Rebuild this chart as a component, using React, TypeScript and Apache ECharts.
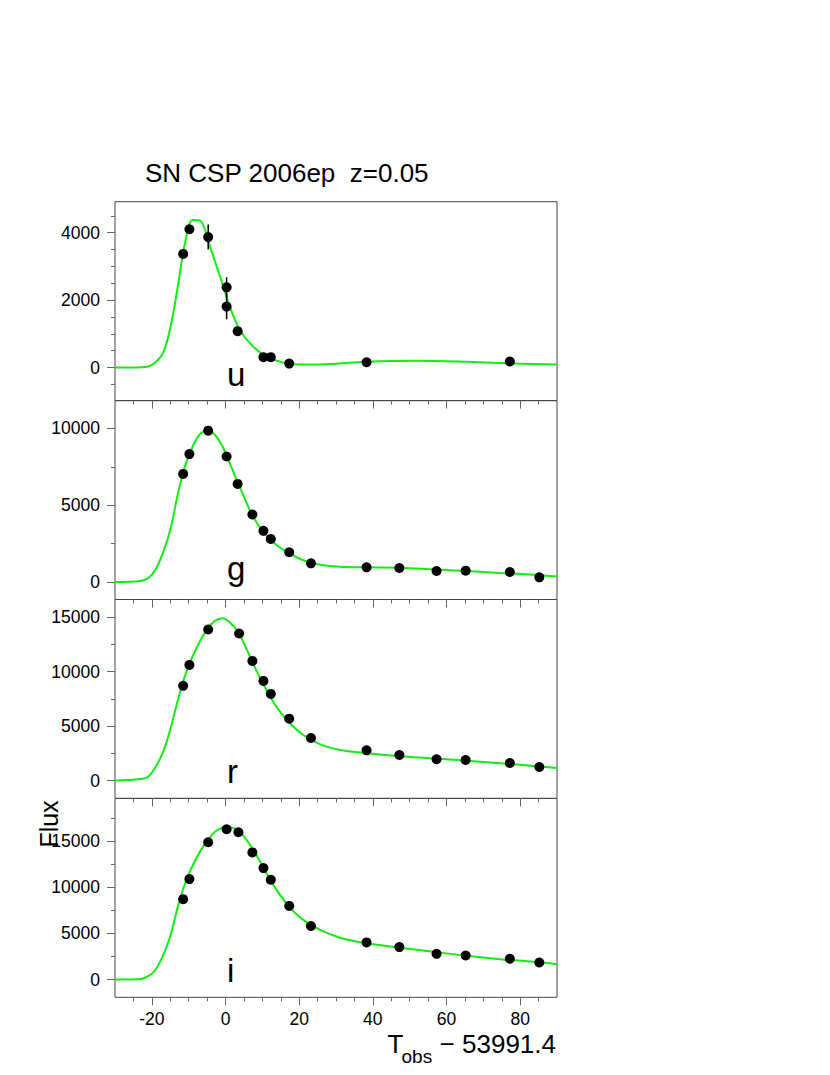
import React, { useEffect, useRef } from 'react';
import * as echarts from 'echarts';

// ---- data ----
const xMajor = [-20, 0, 20, 40, 60, 80];
const xMinor = [-25, -15, -10, -5, 5, 10, 15, 25, 30, 35, 45, 50, 55, 65, 70, 75, 85];

// u band
const uDays = [-11.5, -9.8, -4.7, 0.3, 0.3, 3.3, 10.3, 12.3, 17.3, 38.3, 77.2];
const uFlux = [3370, 4100, 3870, 2380, 1810, 1080, 310, 310, 120, 160, 180];
const uErr = [60, 60, 370, 300, 380, 60, 40, 40, 40, 40, 40];
const uModelDays = [-30, -25, -21, -19.1, -16.9, -14.9, -12.8, -11, -8.9, -6.9, -4.2, -1.5, 1.2, 3.9, 7.5, 11.2, 15.7, 20.2, 24.8, 29.3, 38.3, 51.9, 65.5, 79.1, 90];
const uModelFlux = [0, 0, 30, 150, 445, 1215, 2500, 3690, 4375, 4355, 3585, 2700, 1810, 1117, 622, 326, 148, 89, 89, 110, 170, 200, 170, 120, 89];
const uMajor = [0, 2000, 4000];
const uMinor = [-500, 500, 1000, 1500, 2500, 3000, 3500, 4500];

// g band
const gDays = [-11.5, -9.8, -4.7, 0.3, 3.3, 7.3, 10.3, 12.3, 17.3, 23.2, 38.3, 47.2, 57.3, 65.2, 77.2, 85.2];
const gFlux = [7040, 8330, 9850, 8170, 6385, 4400, 3335, 2810, 1940, 1220, 960, 915, 720, 745, 655, 307];
const gModelDays = [-30, -23.2, -21, -19.1, -16.9, -14.9, -12.8, -11, -8.7, -6.9, -5.1, -2.9, -0.6, 2.1, 4.8, 7.5, 10.3, 13.9, 17.5, 21.1, 25.7, 31.1, 38.3, 47.4, 56.4, 65.5, 74.5, 83.6, 90];
const gModelFlux = [0, 65, 260, 765, 1960, 3490, 5880, 7520, 8935, 9630, 9850, 9590, 8720, 7190, 5670, 4250, 3270, 2400, 1855, 1420, 1135, 1005, 960, 940, 830, 720, 590, 480, 370];
const gMajor = [0, 5000, 10000];
const gMinor = [2500, 7500];

// r band
const rDays = [-11.5, -9.8, -4.7, 3.7, 7.3, 10.3, 12.3, 17.3, 23.2, 38.3, 47.2, 57.3, 65.2, 77.2, 85.2];
const rFlux = [8700, 10620, 13870, 13500, 10990, 9155, 7960, 5690, 3920, 2790, 2360, 1965, 1900, 1625, 1260];
const rModelDays = [-30, -23.2, -21, -19.1, -16.9, -14.9, -12.8, -10.6, -7.9, -5.1, -2.9, -0.8, 1.1, 3.4, 5.6, 8.3, 11.1, 13.8, 17.5, 21.1, 25.7, 31.1, 38.3, 47.4, 56.4, 65.5, 74.5, 83.6, 90];
const rModelFlux = [0, 150, 370, 1190, 2660, 4810, 7570, 10010, 12160, 13840, 14660, 14910, 14545, 13680, 12160, 10165, 8330, 6795, 5270, 4195, 3340, 2820, 2540, 2240, 2055, 1835, 1600, 1350, 1165];
const rMajor = [0, 5000, 10000, 15000];
const rMinor = [2500, 7500, 12500];

// i band
const iDays = [-11.5, -9.8, -4.7, 0.3, 3.5, 7.3, 10.3, 12.3, 17.3, 23.2, 38.3, 47.2, 57.3, 65.2, 77.2, 85.2];
const iFlux = [8720, 10900, 14900, 16310, 15990, 13800, 12100, 10830, 7990, 5810, 4030, 3520, 2790, 2610, 2250, 1850];
const iModelDays = [-30, -23.2, -21, -19.1, -16.9, -14.9, -12.8, -10.6, -7.9, -5.1, -2.4, 0.1, 2.1, 4.4, 6.6, 9.4, 12.1, 14.8, 17.5, 21.1, 25.7, 31.1, 38.3, 47.4, 56.4, 65.5, 74.5, 83.6, 90];
const iModelFlux = [0, 30, 360, 1010, 2650, 4830, 8100, 10830, 13190, 15000, 16170, 16530, 16460, 15810, 14640, 12820, 10830, 9190, 7810, 6470, 5380, 4540, 3930, 3450, 3010, 2570, 2210, 1920, 1670];
const iMajor = [0, 5000, 10000, 15000];
const iMinor = [2500, 7500, 12500, 17500];

const bandNames = ['u', 'g', 'r', 'i'];
const titleText = 'SN CSP 2006ep  z=0.05';

const FONT = '"Liberation Sans", Arial, Helvetica, sans-serif';

const panels = [
  { days: uDays, flux: uFlux, mDays: uModelDays, mFlux: uModelFlux, min: -978, max: 4918, major: uMajor, minor: uMinor },
  { days: gDays, flux: gFlux, mDays: gModelDays, mFlux: gModelFlux, min: -1133, max: 11808, major: gMajor, minor: gMinor },
  { days: rDays, flux: rFlux, mDays: rModelDays, mFlux: rModelFlux, min: -1622, max: 16622, major: rMajor, minor: rMinor },
  { days: iDays, flux: iFlux, mDays: iModelDays, mFlux: iModelFlux, min: -1930, max: 19660, major: iMajor, minor: iMinor },
];

const GRID_LEFT = 115;
const GRID_WIDTH = 442;
const GRID_TOPS = [201.7, 400.6, 599.5, 798.4];
const GRID_H = 198.9;
const letterBaselines = [386, 580, 783, 981.7];

function buildOption() {
  const grid: any[] = [];
  const xAxis: any[] = [];
  const yAxis: any[] = [];
  const series: any[] = [];
  const tickColor = '#666';

  panels.forEach((p, i) => {
    grid.push({
      left: GRID_LEFT,
      top: GRID_TOPS[i],
      width: GRID_WIDTH,
      height: GRID_H,
      show: true,
      borderColor: '#444',
      borderWidth: 1,
      backgroundColor: 'transparent',
    });
    const xBase = {
      type: 'value',
      gridIndex: i,
      min: -30,
      max: 90,
      position: 'bottom',
      axisLine: { show: false, onZero: false },
      splitLine: { show: false },
    };
    xAxis.push({
      ...xBase,
      axisTick: { show: true, inside: false, length: 8, customValues: xMajor, lineStyle: { color: tickColor } },
      axisLabel: {
        show: i === 3,
        customValues: xMajor,
        formatter: (v: number) => String(v),
        fontSize: 17.5,
        fontFamily: FONT,
        color: '#000',
        margin: 12.5,
      },
    });
    xAxis.push({
      ...xBase,
      axisTick: { show: true, inside: false, length: 4, customValues: xMinor, lineStyle: { color: tickColor } },
      axisLabel: { show: false },
    });
    const yBase = {
      type: 'value',
      gridIndex: i,
      min: p.min,
      max: p.max,
      position: 'left',
      axisLine: { show: false, onZero: false },
      splitLine: { show: false },
    };
    yAxis.push({
      ...yBase,
      axisTick: { show: true, inside: false, length: 8, customValues: p.major, lineStyle: { color: tickColor } },
      axisLabel: {
        show: true,
        customValues: p.major,
        formatter: (v: number) => String(v),
        fontSize: 17.5,
        fontFamily: FONT,
        color: '#000',
        margin: 15,
      },
    });
    yAxis.push({
      ...yBase,
      axisTick: { show: true, inside: false, length: 4, customValues: p.minor, lineStyle: { color: tickColor } },
      axisLabel: { show: false },
    });

    series.push({
      type: 'line',
      xAxisIndex: 2 * i,
      yAxisIndex: 2 * i,
      data: p.mDays.map((d, k) => [d, p.mFlux[k]]),
      showSymbol: false,
      smooth: 0.35,
      lineStyle: { color: '#11ee11', width: 2 },
      z: 2,
      silent: true,
    });
    series.push({
      type: 'scatter',
      xAxisIndex: 2 * i,
      yAxisIndex: 2 * i,
      data: p.days.map((d, k) => [d, p.flux[k]]),
      symbol: 'circle',
      symbolSize: 10,
      itemStyle: { color: '#000', opacity: 1 },
      z: 4,
      silent: true,
    });
  });

  series.push({
    type: 'custom',
    xAxisIndex: 0,
    yAxisIndex: 0,
    data: uDays.map((d, k) => [d, uFlux[k], uErr[k]]),
    renderItem: (params: any, api: any) => {
      const x = api.value(0);
      const y = api.value(1);
      const e = api.value(2);
      const p1 = api.coord([x, y - e]);
      const p2 = api.coord([x, y + e]);
      return {
        type: 'line',
        shape: { x1: p1[0], y1: p1[1], x2: p2[0], y2: p2[1] },
        style: { stroke: '#000', lineWidth: 1.5 },
      };
    },
    z: 3,
    silent: true,
  });

  const txt = (text: string, x: number, y: number, size: number, align: string, extra: any = {}) => ({
    type: 'text',
    x,
    y,
    silent: true,
    ...extra,
    style: {
      text,
      fontSize: size,
      fontFamily: FONT,
      fill: '#000',
      align,
      verticalAlign: 'middle',
      textAlign: align,
      textVerticalAlign: 'middle',
    },
  });

  const graphic: any[] = [
    txt(titleText, 145, 172.8, 26, 'left'),
    txt('T', 387.5, 1043.5, 26, 'left'),
    txt('obs', 401.5, 1056, 19, 'left'),
    txt('\u2212 53991.4', 556, 1043.5, 26, 'right'),
    txt('Flux', 49, 824, 25, 'center', { rotation: Math.PI / 2 }),
  ];
  bandNames.forEach((b, i) => {
    graphic.push(txt(b, 227, letterBaselines[i] - 11.5, 33, 'left'));
  });

  return {
    animation: false,
    backgroundColor: '#fff',
    grid,
    xAxis,
    yAxis,
    series,
    graphic,
  };
}

export default function App() {
  const ref = useRef<HTMLDivElement>(null);
  useEffect(() => {
    document.body.style.margin = '0';
    const chart = echarts.init(ref.current!, null, { renderer: 'svg' });
    chart.setOption(buildOption() as any);
    return () => chart.dispose();
  }, []);
  return <div ref={ref} style={{ width: 830, height: 1075, background: '#fff' }} />;
}
